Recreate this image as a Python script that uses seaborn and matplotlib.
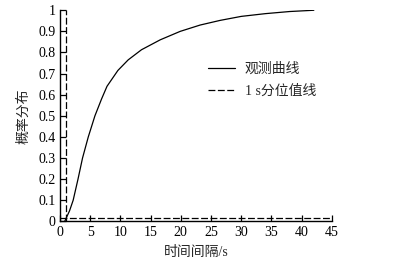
import matplotlib
matplotlib.use("Agg")
import matplotlib.pyplot as plt
import seaborn as sns
import pandas as pd

interval_s = [0.8, 1.6, 2.2, 3.0, 3.75, 4.7, 5.8, 6.9, 7.8, 9.6, 11.3, 13.5,
              16.6, 19.9, 23.2, 26.5, 30.0, 34.0, 38.0, 42.0]
cdf = [0.0, 0.05, 0.10, 0.20, 0.30, 0.40, 0.50, 0.58, 0.64, 0.715, 0.765, 0.813,
       0.86, 0.90, 0.93, 0.952, 0.971, 0.984, 0.994, 1.0]

# 1 s quantile line
q_x = 1.0
q_level = 0.017

x_ticks = list(range(0, 50, 5))
y_ticks = [0, 0.1, 0.2, 0.3, 0.4, 0.5, 0.6, 0.7, 0.8, 0.9, 1]
y_ticklabels = ["0", "0.1", "0.2", "0.3", "0.4", "0.5", "0.6", "0.7", "0.8", "0.9", "1"]

sns.set_theme(style="ticks")
plt.rcParams['font.family'] = ['Liberation Serif', 'Noto Sans CJK SC']
plt.rcParams['axes.unicode_minus'] = False

df = pd.DataFrame({"t": interval_s, "p": cdf})

fig = plt.figure(figsize=(3.99, 2.70), dpi=100)
ax = fig.add_axes([0.150, 0.180, 0.682, 0.782])

sns.lineplot(data=df, x="t", y="p", ax=ax, color="black", linewidth=0.9,
             label="观测曲线")
ax.plot([q_x, q_x], [0, 1], color="black", linestyle="--", linewidth=0.9,
        dashes=(5.5, 2), label="1 s分位值线")
ax.plot([0, 45], [q_level, q_level], color="black", linestyle="--", linewidth=0.9,
        dashes=(5.5, 2))

ax.set_xlim(0, 45)
ax.set_ylim(0, 1)
ax.set_xticks(x_ticks)
ax.set_yticks(y_ticks)
ax.set_yticklabels(y_ticklabels)
ax.tick_params(direction="in", length=4, width=0.9, labelsize=10, colors="black", pad=3)
sns.despine(ax=ax)
for s in ["left", "bottom"]:
    ax.spines[s].set_linewidth(1.0)
    ax.spines[s].set_color("black")

ax.set_xlabel("时间间隔/s", fontsize=10, labelpad=5)
ax.set_ylabel("概率分布", fontsize=10, labelpad=6)

ax.legend(loc="upper left", bbox_to_anchor=(0.50, 0.81), frameon=False,
          fontsize=10, handlelength=1.9, labelspacing=0.6, handletextpad=0.7)

fig.savefig("out.png", dpi=100)
